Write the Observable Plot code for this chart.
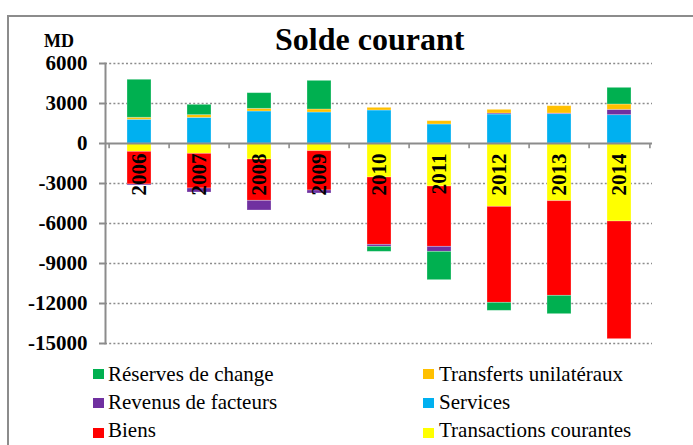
<!DOCTYPE html>
<html>
<head>
<meta charset="utf-8">
<script src="https://cdn.jsdelivr.net/npm/d3@7"></script>
<script src="https://cdn.jsdelivr.net/npm/@observablehq/plot@0.6"></script>
<style>
  html, body { margin: 0; padding: 0; background: #fff; }
  #wrap { position: relative; width: 693px; height: 445px; overflow: hidden; font-family: "Liberation Serif", "Times New Roman", serif; }
  #border { position: absolute; left: 7px; top: 15px; width: 900px; height: 900px; border-left: 2px solid #8c8c8c; border-top: 2px solid #8c8c8c; }
  #chart { position: absolute; left: 0; top: 0; }
  .t { position: absolute; line-height: 1; white-space: nowrap; color: #000; }
  .sw { position: absolute; width: 11px; height: 10px; }
</style>
</head>
<body>
<div id="wrap">
  <div id="border"></div>
  <div id="chart"></div>
</div>
<script>
const years = ["2006","2007","2008","2009","2010","2011","2012","2013","2014"];
const seriesNames = ["Transactions courantes","Services","Biens","Revenus de facteurs","Transferts unilatéraux","Réserves de change"];
const seriesColors = ["#FFFF00","#00B0F0","#FF0000","#7030A0","#FFC000","#00B050"];
const transactions = [-625, -775, -1200, -575, -2550, -3225, -4750, -4325, -5850];
const services     = [1780, 1925, 2400, 2325, 2475, 1425, 2175, 2200, 2125];
const biens        = [-2450, -2600, -3100, -2950, -5050, -4525, -7200, -7100, -8825];
const revenus      = [-75, -300, -725, -225, -150, -375, 75, 50, 400];
const transferts   = [150, 200, 200, 225, 200, 250, 275, 550, 400];
const reserves     = [2850, 775, 1175, 2150, -375, -2125, -600, -1375, 1250];
const yTicks = [6000, 3000, 0, -3000, -6000, -9000, -12000, -15000];
const legendOrder = [["Réserves de change","Transferts unilatéraux"],["Revenus de facteurs","Services"],["Biens","Transactions courantes"]];

const seriesValues = [transactions, services, biens, revenus, transferts, reserves];
const data = [];
seriesNames.forEach((s, i) => years.forEach((y, j) => data.push({year: y, series: s, value: seriesValues[i][j]})));

const FONT = "Liberation Serif, Times New Roman, serif";
const plot = Plot.plot({
  width: 693,
  height: 445,
  marginTop: 63,
  marginBottom: 102,
  marginLeft: 105,
  marginRight: 41,
  style: {background: "transparent", fontFamily: FONT, overflow: "visible"},
  x: {domain: years, paddingInner: 0.6, paddingOuter: 0.3, axis: null},
  y: {domain: [-15000, 6000], axis: null},
  color: {domain: seriesNames, range: seriesColors},
  marks: [
    Plot.ruleY(yTicks.filter(d => d !== 0), {stroke: "#8c8c8c", strokeWidth: 1.6, strokeDasharray: "2,2.2"}),
    Plot.barY(data, {x: "year", y: "value", fill: "series", order: seriesNames, stroke: "#ffffff", strokeOpacity: 0.35, strokeWidth: 0.8}),
    Plot.ruleY([0], {stroke: "#8c8c8c", strokeWidth: 2}),
    Plot.ruleX(years, {x: d => d, y1: 0, y2: -400, dx: -30.4, stroke: "#8c8c8c", strokeWidth: 1.6}),
    Plot.ruleX([years[years.length - 1]], {x: d => d, y1: 0, y2: -400, dx: 30.4, stroke: "#8c8c8c", strokeWidth: 1.6}),
    Plot.frame({anchor: "left", stroke: "#8c8c8c", strokeWidth: 2}),
    Plot.axisY({ticks: yTicks, tickSize: 6, tickPadding: 12, tickFormat: d => String(d), fontSize: 21, fontWeight: "bold", fontFamily: FONT, stroke: "#8c8c8c", strokeWidth: 2, fill: "#000", label: null}),
    Plot.text(years, {x: d => d, y: 0, text: d => d, rotate: -90, textAnchor: "end", lineAnchor: "middle", dy: 10, fontSize: 21, fontWeight: "bold", fontFamily: FONT, fill: "#000"})
  ]
});
document.getElementById("chart").appendChild(plot);

const wrap = document.getElementById("wrap");
function addText(txt, left, top, size, weight, align) {
  const d = document.createElement("div");
  d.className = "t";
  d.textContent = txt;
  d.style.fontSize = size + "px";
  d.style.fontWeight = weight;
  if (align === "right") { d.style.right = (693 - left) + "px"; } else { d.style.left = left + "px"; }
  d.style.top = top + "px";
  wrap.appendChild(d);
}
addText("Solde courant", 275, 23.2, 32, "bold");
addText("MD", 74, 32, 18, "bold", "right");

const rowTops = [364, 392.4, 420.4];
const swTops = [369, 398, 428];
const colSw = [93, 423];
const colTx = [108, 439];
legendOrder.forEach((row, r) => row.forEach((name, c) => {
  const sw = document.createElement("div");
  sw.className = "sw";
  sw.style.left = colSw[c] + "px";
  sw.style.top = swTops[r] + "px";
  sw.style.background = seriesColors[seriesNames.indexOf(name)];
  wrap.appendChild(sw);
  addText(name, colTx[c], rowTops[r], 21, "normal");
}));
</script>
</body>
</html>
